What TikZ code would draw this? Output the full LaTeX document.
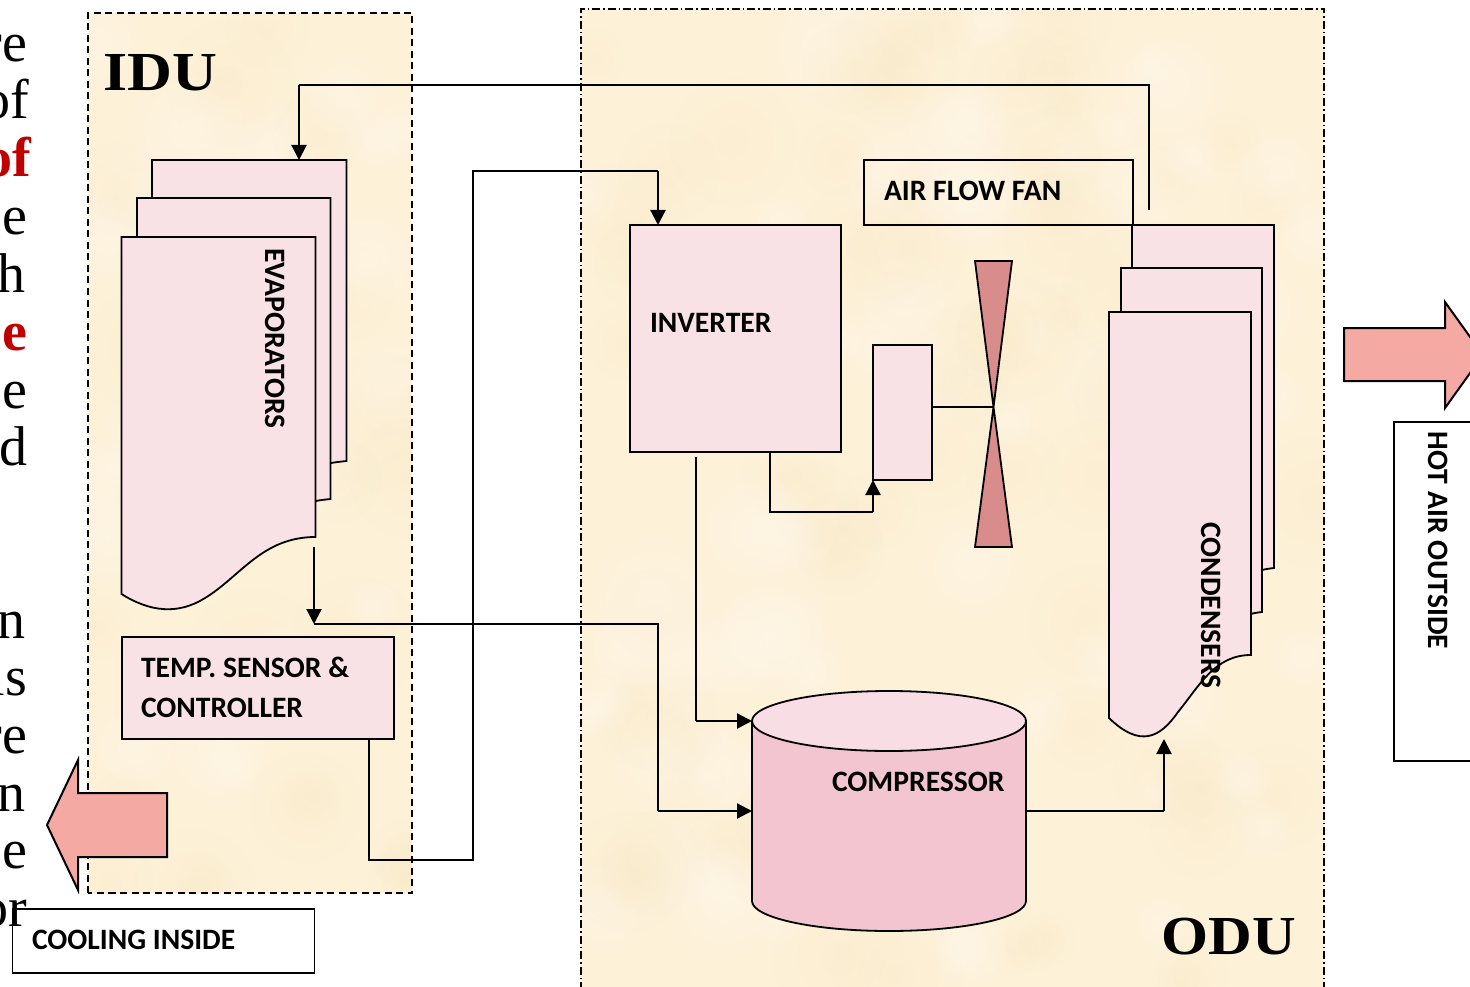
\documentclass[tikz,border=0pt]{standalone}
\usepackage{fontspec}
\setmainfont{Liberation Serif}
\newfontfamily\lab{Carlito}
\usetikzlibrary{arrows.meta,calc,fadings}
\definecolor{cream}{HTML}{FDF1D8}
\definecolor{creamdk}{HTML}{F9E8C2}
\definecolor{creamlt}{HTML}{FFF8EC}
\definecolor{pinkbox}{HTML}{F9E2E5}
\definecolor{cylbody}{HTML}{F2C5D0}
\definecolor{cyltop}{HTML}{F9DDE4}
\definecolor{salmon}{HTML}{F4A9A3}
\definecolor{fanred}{HTML}{D98C8C}
\definecolor{redtxt}{HTML}{C00000}
\tikzfading[name=softspot,inner color=transparent!0,outer color=transparent!100]
\tikzset{
  x=1pt,y=-1pt,
  boxs/.style={draw=black,line width=1.8pt,fill=pinkbox,inner sep=0,outer sep=0,anchor=north west},
  plain/.style={draw=black,line width=1.8pt,inner sep=0,outer sep=0,anchor=north west},
  sheet/.style={draw=black,line width=1.8pt,fill=pinkbox,line join=miter},
  wire/.style={draw=black,line width=1.6pt},
  arr/.style={draw=black,line width=2.2pt,-{Triangle[length=15pt,width=15pt]}},
  lbl/.style={font=\lab\bfseries\fontsize{29.6}{29.6}\selectfont,inner sep=0,outer sep=0,anchor=base west},
  vlbl/.style={font=\lab\bfseries\fontsize{29.6}{29.6}\selectfont,inner sep=0,outer sep=0,rotate=-90,anchor=center},
  frag/.style={font=\fontsize{56}{56}\selectfont,inner sep=0,outer sep=0,anchor=base east},
  fragred/.style={frag,font=\bfseries\fontsize{56}{56}\selectfont,text=redtxt},
  unit/.style={font=\bfseries\fontsize{55}{55}\selectfont,inner sep=0,outer sep=0,anchor=base west},
  hugearrow/.style={draw=black,line width=2pt,fill=salmon,line join=miter},
}
\newcommand{\blotches}[6]{%
  \pgfmathsetseed{#1}%
  \foreach \i in {1,...,#2}{%
    \pgfmathsetmacro{\px}{#3+#5*rnd}%
    \pgfmathsetmacro{\py}{#4+#6*rnd}%
    \pgfmathsetmacro{\pr}{25+45*rnd}%
    \pgfmathsetmacro{\pc}{rnd}%
    \ifdim\pc pt<0.5pt
      \fill[creamdk,opacity=.3,path fading=softspot] (\px,\py) circle (\pr);
    \else
      \fill[creamlt,opacity=.45,path fading=softspot] (\px,\py) circle (\pr);
    \fi
  }%
}
\begin{document}
\begin{tikzpicture}
\useasboundingbox (0,0) rectangle (1470,987);
\clip (0,0) rectangle (1470,987);
\fill[white] (0,0) rectangle (1470,987);

% text fragments cut off by the left edge
\node[frag] (t1) at (27,62) {re};
\node[frag] (t2) at (29,119) {of};
\node[fragred] (t3) at (31,177) {of};
\node[frag] (t4) at (27,235) {e};
\node[frag] (t5) at (26,292) {h};
\node[fragred] (t6) at (27,350) {e};
\node[frag] (t7) at (27,408) {e};
\node[frag] (t8) at (27,465) {d};
\node[frag] (t9) at (26,638) {n};
\node[frag] (t10) at (27,695) {ls};
\node[frag] (t11) at (27,753) {re};
\node[frag] (t12) at (26,811) {n};
\node[frag] (t13) at (27,868) {e};
\node[frag] (t14) at (27,926) {or};

% unit panels
\begin{scope}
\clip (88,13) rectangle (412,893);
\fill[cream] (88,13) rectangle (412,893);
\blotches{42}{60}{88}{13}{324}{880}
\end{scope}
\begin{scope}
\clip (581,9) rectangle (1324,987);
\fill[cream] (581,9) rectangle (1324,987);
\blotches{7}{150}{581}{9}{743}{978}
\end{scope}
\draw[black,line width=1.6pt,dash pattern=on 7pt off 4.5pt] (88,893) -- (88,13) -- (412,13) -- (412,893) -- cycle;
\draw[black,line width=1.6pt,dash pattern=on 8pt off 3pt on 1.5pt off 3pt] (581,990) -- (581,9) -- (1324,9) -- (1324,990);

\node[unit] (idu) at (103,91) {\scalebox{1.13}[1]{IDU}};
\node[unit] (odu) at (1161.5,954) {\scalebox{1.1}[1]{ODU}};

% evaporators
\draw[sheet] (152,160) -- (346.5,160) -- (346.5,461) .. controls (342,461.5) and (337,462) .. (331,463) -- (152,463) -- cycle;
\draw[sheet] (137,198) -- (330.5,198) -- (330.5,499) .. controls (326,499.5) and (321,500) .. (315.5,501) -- (137,501) -- cycle;
\draw[sheet] (121.5,237) -- (315.5,237) -- (315.5,537) .. controls (262,537) and (240,577) .. (205,598) .. controls (178,615) and (150,612) .. (121.5,594) -- cycle;
\node[vlbl] (evap) at (275,338.5) {EVAPORATORS};
\coordinate (evapTop) at (299,160);
\coordinate (evapOut) at (314,547);
\coordinate (evapEnd) at (314,624);

% temperature sensor
\node[boxs,minimum width=272pt,minimum height=102pt] (temp) at (122,637) {};
\node[lbl] (templ1) at (141,677.5) {TEMP. SENSOR \&};
\node[lbl] (templ2) at (141,717.5) {CONTROLLER};
\coordinate (tempOut) at (369,739);

% big arrows
\draw[hugearrow] (167,793) -- (78,793) -- (78,760) -- (47,825) -- (78,890) -- (78,857) -- (167,857) -- cycle;
\draw[hugearrow] (1344,328) -- (1445,328) -- (1445,302) -- (1483,355) -- (1445,408) -- (1445,381) -- (1344,381) -- cycle;

% label boxes outside
\node[plain,minimum width=302pt,minimum height=64pt] (cool) at (12.5,909) {};
\node[lbl] (cooll) at (32,949.5) {COOLING INSIDE};
\node[plain,fill=white,minimum width=100pt,minimum height=339pt] (hot) at (1394,422) {};
\node[vlbl] (hotl) at (1438,540.5) {HOT AIR OUTSIDE};

% condensers
\node[draw=black,line width=1.8pt,inner sep=0,outer sep=0,anchor=north west,minimum width=269pt,minimum height=65pt] (fanl) at (864,160) {};
\draw[sheet] (1132,225) -- (1274,225) -- (1274,568) .. controls (1270,568.5) and (1266,569) .. (1262,570) -- (1132,570) -- cycle;
\draw[sheet] (1121,268) -- (1262,268) -- (1262,612) .. controls (1258,612.5) and (1254,613) .. (1251,614) -- (1121,614) -- cycle;
\draw[sheet] (1109,312) -- (1251,312) -- (1251,655) .. controls (1215,655) and (1200,685) .. (1178,712) .. controls (1160,738) and (1140,748) .. (1109,718) -- cycle;
\node[vlbl] (cond) at (1211,605.5) {CONDENSERS};
\coordinate (condIn) at (1164,739);
\node[lbl] (fant) at (884,200.5) {AIR FLOW FAN};

% inverter, motor, fan
\node[boxs,minimum width=211pt,minimum height=227pt] (inv) at (630,225) {};
\node[lbl] (invl) at (650,332.5) {INVERTER};
\node[boxs,minimum width=59pt,minimum height=135pt] (motor) at (873,345) {};
\draw[draw=black,line width=1.8pt,fill=fanred,line join=miter] (975,261) -- (1012,261) -- (993.5,407) -- (1012,547) -- (975,547) -- (993.5,407) -- cycle;
\coordinate (hub) at (993.5,407);
\coordinate (invIn) at (658,225);
\coordinate (invA) at (696,457);
\coordinate (invB) at (770,452);
\coordinate (motorIn) at (873,480);
\coordinate (motorOut) at (932,407);

% compressor
\fill[cylbody] (752,721) -- (752,901) .. controls (752,917.5) and (813,931) .. (889,931) .. controls (965,931) and (1026,917.5) .. (1026,901) -- (1026,721) -- cycle;
\draw[black,line width=1.8pt] (752,721) -- (752,901) .. controls (752,917.5) and (813,931) .. (889,931) .. controls (965,931) and (1026,917.5) .. (1026,901) -- (1026,721);
\draw[black,line width=1.8pt,fill=cyltop] (889,721) ellipse [x radius=137,y radius=30];
\node[lbl] (compl) at (832,791.5) {COMPRESSOR};
\coordinate (compA) at (752,721);
\coordinate (compB) at (752,811);
\coordinate (compOut) at (1026,811);

% connectors
\coordinate (ret) at (1149,210);
\draw[wire] (ret) |- (evapTop |- 0,85);
\draw[arr] (evapTop |- 0,85) -- (evapTop);
\draw[wire] (tempOut) -- (369,860) -- (473,860) -- (473,171) -- (658,171);
\draw[arr] (658,171) -- (invIn);
\draw[arr] (evapOut) -- (evapEnd);
\draw[wire] (evapEnd) -| (658,811);
\draw[arr] (658,811) -- (compB);
\draw[wire] (invA) -- (696,721);
\draw[arr] (696,721) -- (compA);
\draw[wire] (invB) |- (motorIn |- 0,512);
\draw[arr] (motorIn |- 0,512) -- (motorIn);
\draw[wire] (motorOut) -- (hub);
\draw[wire] (compOut) -| (1164,811);
\draw[arr] (1164,811) -- (condIn);
\end{tikzpicture}
\end{document}
